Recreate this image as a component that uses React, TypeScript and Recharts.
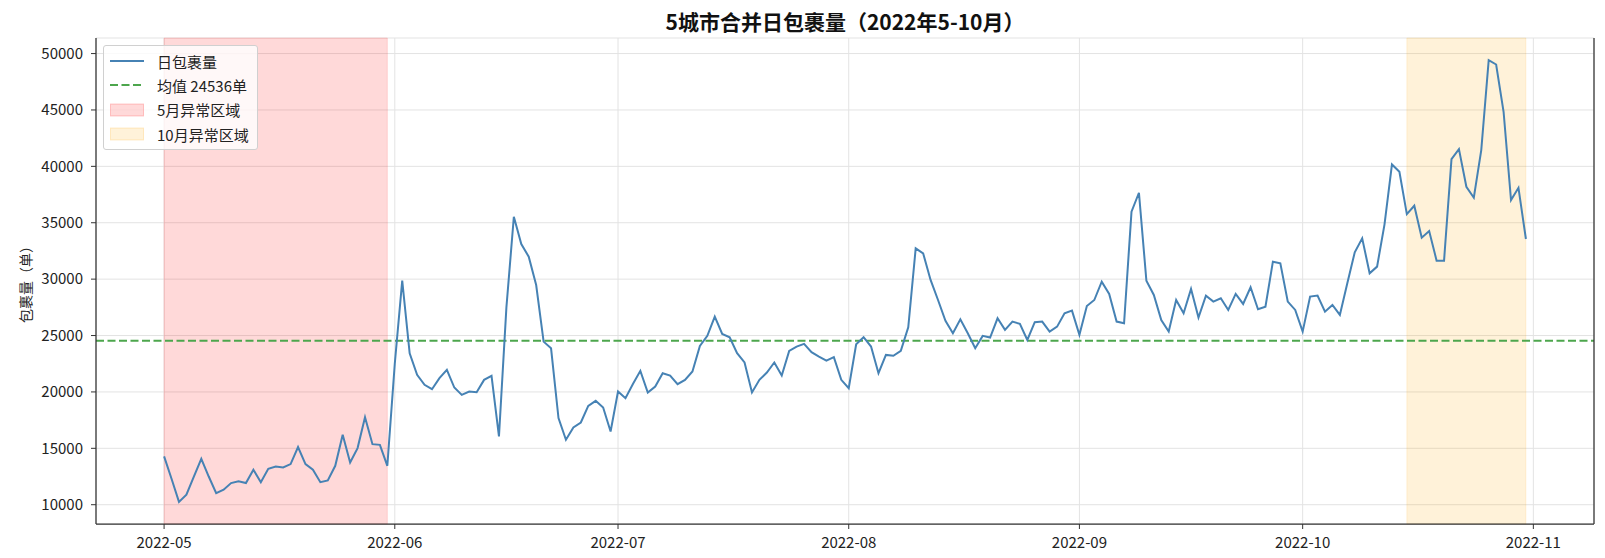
import {
  LineChart,
  Line,
  XAxis,
  YAxis,
  CartesianGrid,
  ReferenceLine,
  ReferenceArea,
  Label,
} from "recharts";

// daily parcel volume, one array per month (2022-05 .. 2022-10)
const mayValues = [
  14280, 12300, 10250, 10890, 12500, 14070, 12500, 11030, 11330, 11920, 12070,
  11920, 13100, 12000, 13190, 13390, 13300, 13600, 15110, 13600, 13100, 12000,
  12150, 13450, 16200, 13750, 15020, 17760, 15370, 15310, 13450,
];
const junValues = [
  22500, 29870, 23430, 21510, 20630, 20240, 21220, 21960, 20390, 19740, 20040,
  19980, 21070, 21420, 16050, 27500, 35530, 33110, 31990, 29480, 24460, 23870,
  17680, 15760, 16850, 17290, 18770, 19210, 18620, 16490,
];
const julValues = [
  20040, 19450, 20700, 21870, 19950, 20480, 21660, 21450, 20690, 21070, 21810,
  24080, 24970, 26680, 25140, 24850, 23430, 22610, 19950, 21070, 21720, 22610,
  21450, 23640, 24020, 24260, 23520, 23140, 22780, 23080, 21070,
];
const augValues = [
  20330, 24230, 24850, 24020, 21660, 23280, 23200, 23640, 25730, 32730, 32290,
  29930, 28150, 26300, 25200, 26440, 25200, 23870, 24970, 24820, 26530, 25500,
  26240, 26030, 24610, 26180, 26240, 25350, 25790, 26970, 27210,
];
const sepValues = [
  25060, 27620, 28150, 29780, 28690, 26240, 26090, 35980, 37660, 29870, 28600,
  26380, 25350, 28150, 26970, 29130, 26590, 28540, 28010, 28300, 27270, 28690,
  27800, 29280, 27330, 27560, 31550, 31400, 28010, 27270,
];
const octValues = [
  25350, 28450, 28540, 27120, 27710, 26830, 29630, 32380, 33620, 30520, 31110,
  34860, 40170, 39520, 35770, 36510, 33680, 34270, 31640, 31640, 40640, 41530,
  38190, 37220, 41440, 49420, 49030, 44840, 37010, 38100, 33560,
];

const meanValue = 24536;
// day index of each month start, counted from 2022-05-01
const monthTicks = [0, 31, 61, 92, 123, 153, 184];
const monthLabels = ["2022-05", "2022-06", "2022-07", "2022-08", "2022-09", "2022-10", "2022-11"];
const yTicks = [10000, 15000, 20000, 25000, 30000, 35000, 40000, 45000, 50000];
// anomaly windows (day index): 05-01..05-31, 10-15..10-31
const mayRange = [0, 30];
const octRange = [167, 183];

const data = [
  ...mayValues,
  ...junValues,
  ...julValues,
  ...augValues,
  ...sepValues,
  ...octValues,
].map((v, i) => ({ day: i, value: v }));

const FONT = "'Noto Sans CJK SC', 'Noto Sans', sans-serif";
const xDomain = [-9.15, 192.15];
const yDomain = [8290, 51380];

const legendItems = [
  { label: "日包裹量", kind: "line", color: "#4682b4" },
  { label: `均值 ${meanValue}单`, kind: "dash", color: "#4da64d" },
  { label: "5月异常区域", kind: "patch", color: "rgba(255,0,0,0.15)", edge: "rgba(255,0,0,0.2)" },
  { label: "10月异常区域", kind: "patch", color: "rgba(255,165,0,0.15)", edge: "rgba(255,165,0,0.2)" },
];

function ChartLegend() {
  return (
    <div
      style={{
        position: "absolute",
        left: 103,
        top: 45,
        background: "rgba(255,255,255,0.8)",
        border: "1px solid #d0d0d0",
        borderRadius: 3,
        padding: "3px 8px 3px 6px",
        fontFamily: FONT,
        fontSize: 15,
        color: "#222",
      }}
    >
      {legendItems.map((it) => (
        <div key={it.label} style={{ display: "flex", alignItems: "center", height: 24.3 }}>
          <svg width={34} height={14} style={{ marginRight: 13 }}>
            {it.kind === "line" && <line x1={0} y1={7} x2={34} y2={7} stroke={it.color} strokeWidth={2} />}
            {it.kind === "dash" && (
              <line x1={0} y1={7} x2={34} y2={7} stroke={it.color} strokeWidth={1.8} strokeDasharray="8 3.5" />
            )}
            {it.kind === "patch" && (
              <rect x={0.5} y={1} width={33} height={12} fill={it.color} stroke={it.edge} />
            )}
          </svg>
          <span>{it.label}</span>
        </div>
      ))}
    </div>
  );
}

export default function App() {
  return (
    <div style={{ position: "absolute", left: 0, top: 0, width: 1605, height: 558, background: "#fff" }}>
      <div
        style={{
          position: "absolute",
          top: 6,
          left: 0,
          width: 1690,
          textAlign: "center",
          fontFamily: FONT,
          fontWeight: 700,
          fontSize: 21,
          color: "#111",
        }}
      >
        5城市合并日包裹量（2022年5-10月）
      </div>
      <LineChart width={1605} height={558} data={data} margin={{ top: 38, right: 10, bottom: 0, left: 0 }}>
        <CartesianGrid stroke="#e3e3e3" strokeWidth={1} />
        <XAxis
          dataKey="day"
          type="number"
          domain={xDomain}
          ticks={monthTicks}
          allowDataOverflow
          tickFormatter={(v: number) => monthLabels[monthTicks.indexOf(v)]}
          height={34}
          tickSize={5}
          tickMargin={8}
          tick={{ fontSize: 15, fill: "#222", fontFamily: FONT }}
          axisLine={{ stroke: "#333", strokeWidth: 1.25 }}
          tickLine={{ stroke: "#333" }}
        />
        <XAxis
          xAxisId="top"
          orientation="top"
          type="number"
          domain={xDomain}
          height={0}
          tick={false}
          tickLine={false}
          axisLine={{ stroke: "#333", strokeWidth: 1.25 }}
        />
        <YAxis
          type="number"
          domain={yDomain}
          ticks={yTicks}
          allowDataOverflow
          width={96}
          tickSize={5}
          tickMargin={8}
          tick={{ fontSize: 15, fill: "#222", fontFamily: FONT }}
          axisLine={{ stroke: "#333", strokeWidth: 1.25 }}
          tickLine={{ stroke: "#333" }}
        >
          <Label
            content={({ viewBox }: any) => {
              const cy = viewBox.y + viewBox.height / 2;
              return (
                <text
                  x={25}
                  y={cy}
                  transform={`rotate(-90 25 ${cy})`}
                  textAnchor="middle"
                  dominantBaseline="central"
                  fontSize={14}
                  fill="#222"
                  fontFamily={FONT}
                >
                  包裹量（单）
                </text>
              );
            }}
          />
        </YAxis>
        <YAxis
          yAxisId="right"
          orientation="right"
          type="number"
          domain={yDomain}
          width={1}
          tick={false}
          tickLine={false}
          axisLine={{ stroke: "#333", strokeWidth: 1.25 }}
        />
        <ReferenceArea
          x1={mayRange[0]}
          x2={mayRange[1]}
          fill="#ff0000"
          fillOpacity={0.15}
          stroke="#ff0000"
          strokeOpacity={0.12}
        />
        <ReferenceArea
          x1={octRange[0]}
          x2={octRange[1]}
          fill="#ffa500"
          fillOpacity={0.15}
          stroke="#ffa500"
          strokeOpacity={0.12}
        />
        <ReferenceLine y={meanValue} stroke="#4da64d" strokeWidth={1.8} strokeDasharray="8 3.5" />
        <Line
          type="linear"
          dataKey="value"
          stroke="#4682b4"
          strokeWidth={2}
          dot={false}
          isAnimationActive={false}
        />
      </LineChart>
      <ChartLegend />
    </div>
  );
}
